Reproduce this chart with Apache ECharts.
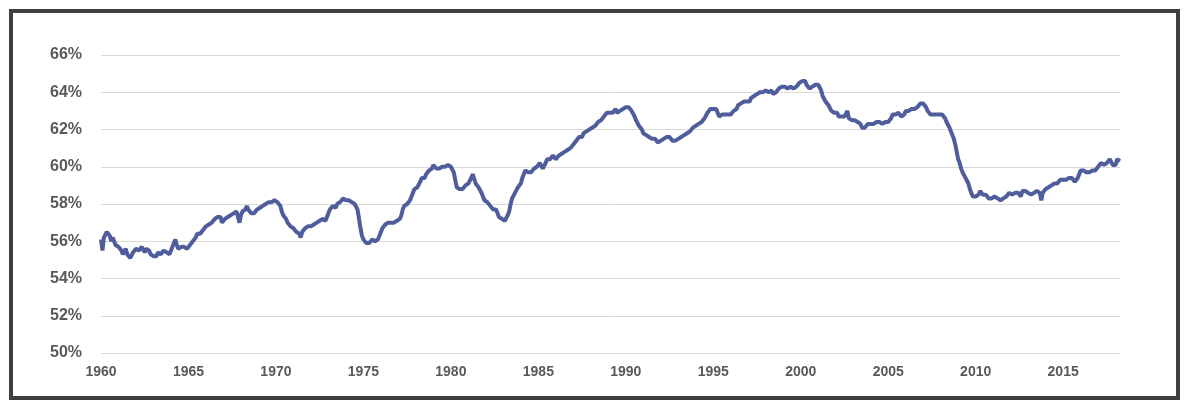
<!DOCTYPE html>
<html>
<head>
    <meta charset="utf-8">
    <title>Employment-population ratio</title>
    <script src="https://cdn.jsdelivr.net/npm/echarts@6/dist/echarts.min.js"></script>
    <style>
        body { margin: 0; background: #fff; }
        #main { position: absolute; left: 0; top: 0; width: 1190px; height: 410px; }
        #frame { position: absolute; left: 9px; top: 9px; width: 1171px; height: 391px;
                 box-sizing: border-box; border: 4px solid #404040; pointer-events: none; }
    </style>
</head>
<body>
    <div id="main"></div>
    <div id="frame"></div>
    <script type="text/javascript">
        // monthly values (%), one array per decade
        var ratio1960s = [
            56.1, 55.5, 56.2, 56.3, 56.5, 56.5, 56.3, 56.0, 56.2, 56.0, 55.8, 55.7,
            55.7, 55.6, 55.5, 55.3, 55.3, 55.6, 55.3, 55.2, 55.1, 55.2, 55.4, 55.3,
            55.6, 55.6, 55.5, 55.6, 55.7, 55.7, 55.4, 55.6, 55.7, 55.5, 55.3, 55.3,
            55.2, 55.1, 55.2, 55.4, 55.4, 55.3, 55.4, 55.5, 55.4, 55.4, 55.3, 55.3,
            55.5, 55.7, 55.8, 56.1, 55.8, 55.6, 55.7, 55.7, 55.6, 55.7, 55.6, 55.6,
            55.7, 55.8, 55.9, 56.0, 56.1, 56.2, 56.4, 56.3, 56.4, 56.5, 56.6, 56.7,
            56.8, 56.8, 56.9, 56.9, 57.0, 57.1, 57.2, 57.2, 57.3, 57.4, 57.3, 57.0,
            57.1, 57.2, 57.2, 57.3, 57.2, 57.4, 57.5, 57.5, 57.5, 57.6, 57.6, 57.0,
            57.4, 57.6, 57.6, 57.7, 57.9, 57.7, 57.6, 57.5, 57.5, 57.5, 57.6, 57.7,
            57.8, 57.8, 57.9, 57.9, 58.0, 58.0, 58.1, 58.1, 58.2, 58.1, 58.2, 58.2
        ];
        var ratio1970s = [
            58.1, 58.1, 58.0, 57.9, 57.6, 57.4, 57.3, 57.2, 57.0, 56.9, 56.8, 56.7,
            56.7, 56.6, 56.5, 56.5, 56.4, 56.2, 56.5, 56.6, 56.7, 56.7, 56.8, 56.8,
            56.8, 56.9, 56.9, 57.0, 57.0, 57.1, 57.1, 57.1, 57.2, 57.2, 57.1, 57.2,
            57.5, 57.7, 57.8, 57.9, 57.8, 57.8, 58.0, 58.1, 58.1, 58.2, 58.3, 58.2,
            58.2, 58.2, 58.2, 58.2, 58.1, 58.0, 58.0, 57.9, 57.7, 57.2, 56.7, 56.3,
            56.1, 56.0, 55.9, 55.9, 55.9, 56.0, 56.1, 56.1, 56.0, 56.0, 56.1, 56.2,
            56.5, 56.7, 56.8, 56.9, 57.0, 57.0, 56.9, 57.0, 56.9, 57.0, 57.0, 57.1,
            57.1, 57.2, 57.4, 57.7, 57.9, 57.9, 58.0, 58.1, 58.2, 58.4, 58.6, 58.8,
            58.9, 58.9, 58.9, 59.2, 59.4, 59.5, 59.4, 59.6, 59.7, 59.8, 59.8, 59.9,
            60.1, 60.1, 59.9, 59.8, 59.9, 60.0, 60.0, 59.9, 60.0, 60.0, 60.1, 60.1
        ];
        var ratio1980s = [
            60.0, 60.0, 59.7, 59.3, 58.9, 58.8, 58.8, 58.8, 58.8, 58.9, 59.0, 59.0,
            59.1, 59.2, 59.4, 59.6, 59.5, 59.1, 59.1, 58.9, 58.8, 58.6, 58.4, 58.2,
            58.2, 58.1, 58.1, 57.9, 58.0, 57.7, 57.7, 57.7, 57.5, 57.3, 57.2, 57.2,
            57.1, 57.1, 57.2, 57.4, 57.6, 58.0, 58.3, 58.4, 58.6, 58.7, 58.9, 59.0,
            59.1, 59.4, 59.5, 59.8, 59.9, 59.7, 59.7, 59.7, 59.8, 59.9, 59.9, 60.0,
            60.1, 60.2, 60.1, 59.9, 59.9, 60.2, 60.4, 60.3, 60.4, 60.5, 60.6, 60.5,
            60.4, 60.5, 60.6, 60.6, 60.7, 60.8, 60.8, 60.9, 60.9, 61.0, 61.0, 61.1,
            61.2, 61.3, 61.4, 61.5, 61.6, 61.6, 61.6, 61.8, 61.7, 61.9, 62.0, 62.0,
            62.0, 62.1, 62.1, 62.2, 62.2, 62.4, 62.4, 62.5, 62.6, 62.7, 62.8, 62.9,
            62.9, 62.9, 63.0, 62.9, 63.0, 63.1, 62.9, 62.8, 63.0, 63.0, 63.1, 63.1
        ];
        var ratio1990s = [
            63.2, 63.2, 63.2, 63.1, 63.0, 62.9, 62.7, 62.5, 62.4, 62.2, 62.1, 62.0,
            61.8, 61.8, 61.7, 61.7, 61.6, 61.5, 61.5, 61.6, 61.5, 61.4, 61.3, 61.3,
            61.4, 61.4, 61.5, 61.5, 61.6, 61.5, 61.6, 61.5, 61.4, 61.4, 61.4, 61.4,
            61.5, 61.6, 61.6, 61.7, 61.7, 61.8, 61.8, 61.9, 61.9, 62.0, 62.1, 62.1,
            62.2, 62.3, 62.3, 62.4, 62.4, 62.5, 62.6, 62.7, 62.9, 63.0, 63.1, 63.1,
            63.1, 63.1, 63.1, 63.0, 62.7, 62.7, 62.8, 62.9, 62.8, 62.8, 62.8, 62.7,
            62.8, 62.9, 63.0, 63.0, 63.1, 63.3, 63.3, 63.4, 63.4, 63.5, 63.5, 63.5,
            63.4, 63.5, 63.7, 63.8, 63.8, 63.8, 63.9, 64.0, 64.0, 64.0, 64.0, 64.0,
            64.1, 64.1, 64.0, 64.1, 64.1, 63.9, 63.9, 64.0, 64.1, 64.2, 64.2, 64.3,
            64.3, 64.3, 64.3, 64.2, 64.2, 64.3, 64.2, 64.2, 64.3, 64.3, 64.4, 64.5
        ];
        var ratio2000s = [
            64.6, 64.6, 64.7, 64.6, 64.4, 64.3, 64.2, 64.2, 64.3, 64.3, 64.4, 64.4,
            64.4, 64.3, 64.1, 63.8, 63.7, 63.5, 63.4, 63.3, 63.2, 63.0, 62.9, 62.9,
            62.8, 62.9, 62.7, 62.8, 62.7, 62.7, 62.7, 62.6, 63.0, 62.6, 62.5, 62.5,
            62.5, 62.5, 62.4, 62.4, 62.3, 62.3, 62.1, 62.0, 62.1, 62.2, 62.3, 62.3,
            62.3, 62.2, 62.3, 62.3, 62.4, 62.5, 62.4, 62.4, 62.3, 62.4, 62.4, 62.4,
            62.4, 62.5, 62.6, 62.8, 62.8, 62.8, 62.9, 62.9, 62.8, 62.7, 62.7, 62.8,
            63.0, 63.0, 63.0, 63.1, 63.1, 63.0, 63.1, 63.2, 63.2, 63.3, 63.4, 63.4,
            63.4, 63.3, 63.2, 63.0, 62.9, 62.8, 62.8, 62.8, 62.9, 62.8, 62.9, 62.8,
            62.9, 62.8, 62.7, 62.6, 62.4, 62.3, 62.1, 61.9, 61.7, 61.5, 61.2, 60.8,
            60.4, 60.2, 59.9, 59.7, 59.6, 59.4, 59.3, 59.1, 58.8, 58.6, 58.4, 58.3
        ];
        var ratio2010s = [
            58.4, 58.5, 58.5, 58.7, 58.6, 58.5, 58.5, 58.5, 58.4, 58.3, 58.2, 58.3,
            58.4, 58.4, 58.3, 58.3, 58.2, 58.2, 58.2, 58.3, 58.4, 58.4, 58.5, 58.6,
            58.5, 58.5, 58.5, 58.6, 58.6, 58.6, 58.5, 58.4, 58.7, 58.8, 58.7, 58.7,
            58.6, 58.6, 58.5, 58.6, 58.6, 58.6, 58.7, 58.6, 58.6, 58.2, 58.6, 58.7,
            58.8, 58.8, 58.9, 58.9, 59.0, 59.0, 59.1, 59.1, 59.1, 59.2, 59.3, 59.3,
            59.3, 59.3, 59.3, 59.3, 59.4, 59.4, 59.4, 59.3, 59.2, 59.3, 59.4, 59.6,
            59.8, 59.8, 59.8, 59.7, 59.7, 59.7, 59.7, 59.8, 59.8, 59.8, 59.8, 59.9,
            60.0, 60.1, 60.2, 60.2, 60.1, 60.1, 60.2, 60.1, 60.4, 60.3, 60.1, 60.2,
            60.1, 60.4, 60.4, 60.3
        ];
        var startYear = 1960;
        var yearTicks = 5;

        var ratio = [].concat(ratio1960s, ratio1970s, ratio1980s, ratio1990s, ratio2000s, ratio2010s);
        var points = [];
        for (var i = 0; i < ratio.length; i++) {
            points.push([startYear + i / 12, ratio[i]]);
        }

        var myChart = echarts.init(document.getElementById('main'));
        var labelFont = 'Liberation Sans, Arial, sans-serif';
        myChart.setOption({
            animation: false,
            backgroundColor: '#ffffff',
            grid: { left: 101, right: 70, top: 55, bottom: 57 },
            xAxis: {
                type: 'value',
                min: 1960,
                max: 2018.25,
                interval: yearTicks,
                axisLine: { show: false },
                axisTick: { show: false },
                splitLine: { show: false },
                axisLabel: {
                    showMaxLabel: false,
                    margin: 12,
                    color: '#595959',
                    fontFamily: labelFont,
                    fontWeight: 'bold',
                    fontSize: 14,
                    formatter: function (v) { return String(Math.round(v)); }
                }
            },
            yAxis: {
                type: 'value',
                min: 50,
                max: 66,
                interval: 2,
                axisLine: { show: false },
                axisTick: { show: false },
                splitLine: { lineStyle: { color: '#d9d9d9', width: 1 } },
                axisLabel: {
                    margin: 19,
                    color: '#595959',
                    fontFamily: labelFont,
                    fontWeight: 'bold',
                    fontSize: 16,
                    formatter: '{value}%'
                }
            },
            series: [{
                type: 'line',
                data: points,
                showSymbol: false,
                lineStyle: { color: '#4f5d9d', width: 4 },
                itemStyle: { color: '#4f5d9d' }
            }]
        });
    </script>
</body>
</html>
